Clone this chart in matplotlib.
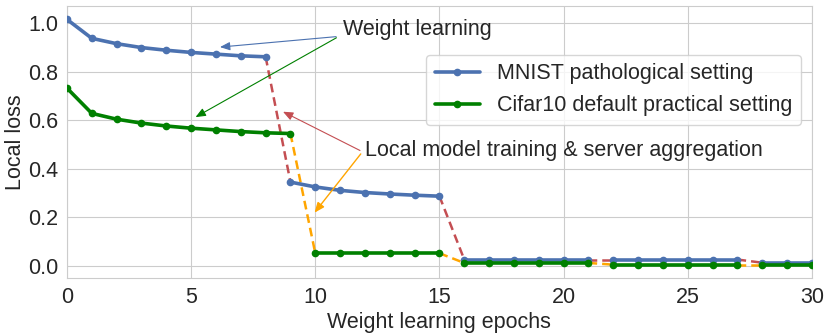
import matplotlib
matplotlib.use("Agg")
import matplotlib.pyplot as plt
import seaborn as sns

sns.set_style("whitegrid")
plt.rcParams['font.family'] = ['Liberation Sans', 'DejaVu Sans']

epochs = list(range(31))
mnist_loss = [1.015, 0.937, 0.915, 0.899, 0.888, 0.879, 0.872, 0.865, 0.861,
              0.345, 0.325, 0.311, 0.302, 0.296, 0.291, 0.287,
              0.026, 0.026, 0.026, 0.026, 0.026, 0.026,
              0.026, 0.026, 0.026, 0.026, 0.026, 0.026,
              0.013, 0.013, 0.013]
cifar_loss = [0.732, 0.628, 0.604, 0.588, 0.576, 0.567, 0.560, 0.553, 0.548, 0.545,
              0.052, 0.052, 0.052, 0.052, 0.052, 0.052,
              0.012, 0.012, 0.012, 0.012, 0.012, 0.012,
              0.005, 0.005, 0.005, 0.005, 0.005, 0.005,
              0.005, 0.005, 0.005]
# epochs after which aggregation happens (dashed link to next epoch)
mnist_agg = [8, 15, 21, 27]
cifar_agg = [9, 15, 21, 27]

mnist_label = "MNIST pathological setting"
cifar_label = "Cifar10 default practical setting"
blue = "#4c72b0"
green = "#008000"
red = "#c44e52"
orange = "orange"
FS = 15.5

fig = plt.figure(figsize=(8.31, 3.36), dpi=100)
ax = fig.add_axes([0.0806, 0.1726, 0.8964, 0.8094])

def draw(values, breaks, color, dcolor, label):
    starts = [0] + [b + 1 for b in breaks]
    ends = breaks + [len(values) - 1]
    for i, (s, e) in enumerate(zip(starts, ends)):
        ax.plot(epochs[s:e + 1], values[s:e + 1], color=color, lw=2.6,
                marker='o', ms=4.5, label=label if i == 0 else None, zorder=3)
    for b in breaks:
        ax.plot(epochs[b:b + 2], values[b:b + 2], color=dcolor, lw=1.8,
                ls=(0, (3.5, 2)), zorder=2)

draw(mnist_loss, mnist_agg, blue, red, mnist_label)
draw(cifar_loss, cifar_agg, green, orange, cifar_label)

ax.set_xlim(0, 30)
ax.set_ylim(-0.05, 1.07)
ax.set_xticks([0, 5, 10, 15, 20, 25, 30])
ax.set_yticks([0.0, 0.2, 0.4, 0.6, 0.8, 1.0])
ax.tick_params(labelsize=FS, pad=3)
ax.set_xlabel("Weight learning epochs", fontsize=FS, labelpad=3)
ax.set_ylabel("Local loss", fontsize=FS, labelpad=1)

# annotations
ax.text(11.1, 0.975, "Weight learning", fontsize=FS, ha='left', va='center', color='#262626')
ax.annotate("", xy=(6.05, 0.90), xytext=(10.95, 0.945),
            arrowprops=dict(arrowstyle='-|>,head_length=0.6,head_width=0.25', color=blue, lw=0.8))
ax.annotate("", xy=(5.08, 0.607), xytext=(10.95, 0.945),
            arrowprops=dict(arrowstyle='-|>,head_length=0.6,head_width=0.25', color=green, lw=0.8))

ax.text(12.0, 0.475, "Local model training & server aggregation", fontsize=FS,
        ha='left', va='center', color='#262626')
ax.annotate("", xy=(8.6, 0.64), xytext=(11.9, 0.47),
            arrowprops=dict(arrowstyle='-|>,head_length=0.6,head_width=0.25', color=red, lw=0.8))
ax.annotate("", xy=(9.9, 0.21), xytext=(11.9, 0.47),
            arrowprops=dict(arrowstyle='-|>,head_length=0.6,head_width=0.25', color=orange, lw=1.0))

ax.legend(loc='upper right', bbox_to_anchor=(1.0, 0.86), fontsize=FS,
          numpoints=1, handlelength=2.1, frameon=True)

fig.savefig("out.png", dpi=100)
